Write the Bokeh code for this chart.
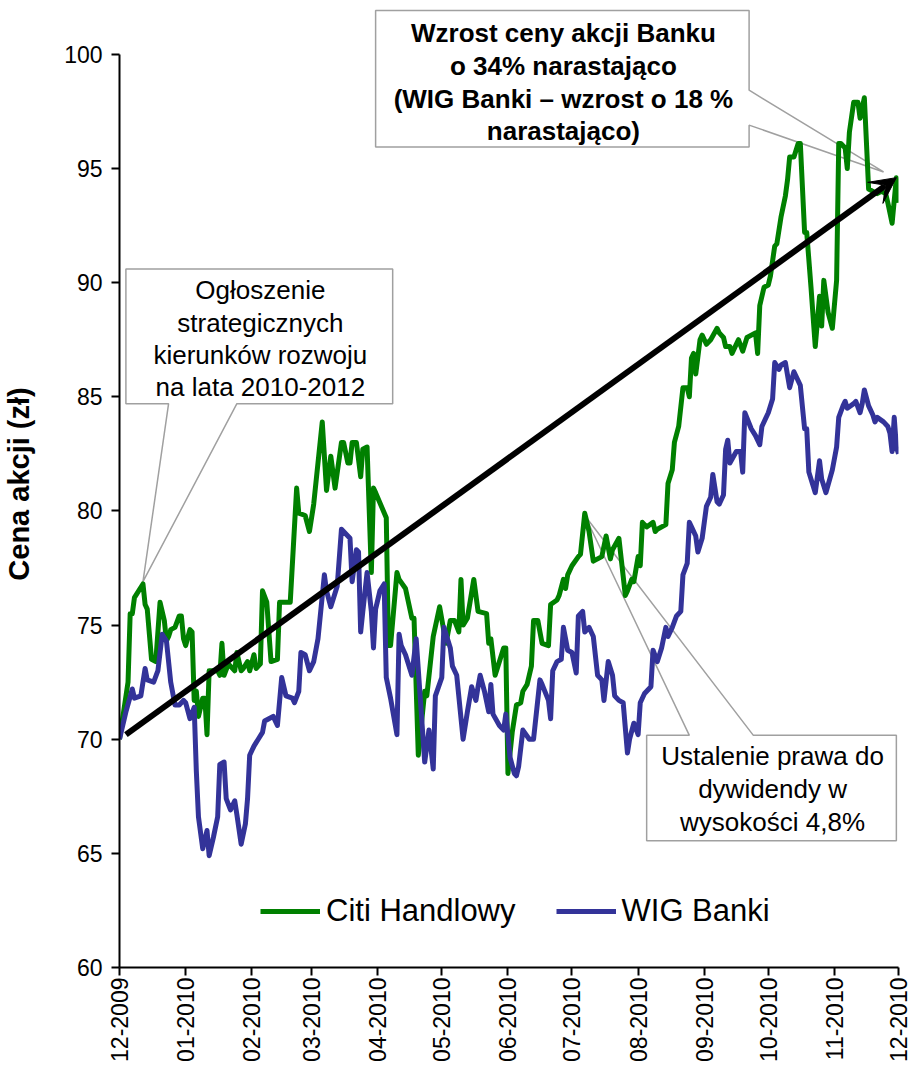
import math
import pandas as pd
from bokeh.plotting import figure
from bokeh.models import (Range1d, FixedTicker, DatetimeTickFormatter, Legend, LegendItem,
                          Arrow, VeeHead)
from bokeh.core.properties import value
from bokeh.embed import file_html
from bokeh.resources import INLINE

# ---------------- data ----------------
citi_dates = [
    "2009-12-01", "2009-12-05", "2009-12-06", "2009-12-07", "2009-12-08", "2009-12-12", "2009-12-13", "2009-12-14", "2009-12-16", "2009-12-18",
    "2009-12-20", "2009-12-22", "2009-12-23", "2009-12-24", "2009-12-25", "2009-12-27", "2009-12-29", "2009-12-30", "2009-12-31", "2010-01-01",
    "2010-01-03", "2010-01-04", "2010-01-05", "2010-01-06", "2010-01-07", "2010-01-09", "2010-01-10", "2010-01-11", "2010-01-12", "2010-01-13",
    "2010-01-16", "2010-01-17", "2010-01-18", "2010-01-19", "2010-01-21", "2010-01-24", "2010-01-25", "2010-01-27", "2010-01-28", "2010-01-30",
    "2010-01-31", "2010-02-02", "2010-02-03", "2010-02-05", "2010-02-06", "2010-02-08", "2010-02-10", "2010-02-13", "2010-02-14", "2010-02-19",
    "2010-02-22", "2010-02-23", "2010-02-26", "2010-02-28", "2010-03-02", "2010-03-06", "2010-03-08", "2010-03-10", "2010-03-12", "2010-03-15",
    "2010-03-16", "2010-03-18", "2010-03-19", "2010-03-20", "2010-03-22", "2010-03-24", "2010-03-25", "2010-03-27", "2010-03-29", "2010-03-30",
    "2010-03-31", "2010-04-05", "2010-04-06", "2010-04-07", "2010-04-10", "2010-04-11", "2010-04-14", "2010-04-17", "2010-04-18", "2010-04-20",
    "2010-04-23", "2010-04-24", "2010-04-27", "2010-04-30", "2010-05-03", "2010-05-05", "2010-05-07", "2010-05-09", "2010-05-10", "2010-05-11",
    "2010-05-13", "2010-05-16", "2010-05-18", "2010-05-22", "2010-05-23", "2010-05-24", "2010-05-26", "2010-05-30", "2010-05-31", "2010-06-01",
    "2010-06-03", "2010-06-05", "2010-06-07", "2010-06-08", "2010-06-10", "2010-06-12", "2010-06-13", "2010-06-15", "2010-06-17", "2010-06-20",
    "2010-06-21", "2010-06-24", "2010-06-25", "2010-06-27", "2010-06-28", "2010-06-29", "2010-07-01", "2010-07-04", "2010-07-05", "2010-07-07",
    "2010-07-09", "2010-07-11", "2010-07-13", "2010-07-15", "2010-07-17", "2010-07-19", "2010-07-20", "2010-07-23", "2010-07-26", "2010-07-27",
    "2010-07-29", "2010-07-30", "2010-08-01", "2010-08-02", "2010-08-03", "2010-08-05", "2010-08-08", "2010-08-09", "2010-08-10", "2010-08-14",
    "2010-08-15", "2010-08-17", "2010-08-18", "2010-08-20", "2010-08-22", "2010-08-24", "2010-08-25", "2010-08-26", "2010-08-27", "2010-08-28",
    "2010-08-30", "2010-08-31", "2010-09-02", "2010-09-04", "2010-09-07", "2010-09-08", "2010-09-10", "2010-09-11", "2010-09-13", "2010-09-14",
    "2010-09-17", "2010-09-19", "2010-09-21", "2010-09-25", "2010-09-26", "2010-09-27", "2010-09-29", "2010-10-01", "2010-10-02", "2010-10-04",
    "2010-10-05", "2010-10-07", "2010-10-09", "2010-10-10", "2010-10-11", "2010-10-13", "2010-10-15", "2010-10-16", "2010-10-18", "2010-10-19",
    "2010-10-21", "2010-10-23", "2010-10-25", "2010-10-26", "2010-10-27", "2010-10-29", "2010-10-31", "2010-11-02", "2010-11-03", "2010-11-04",
    "2010-11-06", "2010-11-07", "2010-11-08", "2010-11-10", "2010-11-12", "2010-11-13", "2010-11-15", "2010-11-17", "2010-11-19", "2010-11-21",
    "2010-11-23", "2010-11-25", "2010-11-26", "2010-11-28", "2010-11-30", "2010-12-01",
]
citi_values = [
    70.0, 72.5, 75.5, 75.5, 76.2, 76.8, 75.9, 75.7, 73.5, 73.4,
    76.0, 75.2, 74.3, 74.5, 74.8, 74.9, 75.4, 75.4, 74.4, 74.1,
    74.8, 74.7, 71.7, 72.1, 71.0, 71.8, 71.8, 70.2, 73.0, 73.0,
    73.0, 72.8, 74.2, 72.8, 73.3, 73.0, 73.8, 73.0, 73.1, 73.4,
    73.0, 73.7, 73.1, 73.3, 76.5, 76.0, 73.4, 73.5, 76.0, 76.0,
    81.0, 79.9, 79.8, 79.1, 80.3, 83.9, 80.9, 82.4, 81.0, 83.0,
    83.0, 82.1, 82.1, 83.0, 83.0, 81.5, 82.7, 82.8, 77.3, 81.0,
    80.8, 79.7, 74.1, 74.1, 77.3, 77.0, 76.6, 75.3, 75.3, 69.3,
    72.1, 71.9, 74.5, 75.8, 74.2, 75.2, 75.2, 74.7, 77.0, 75.0,
    75.3, 77.0, 75.6, 75.5, 74.2, 74.4, 72.8, 74.0, 74.0, 68.5,
    70.3, 71.5, 71.6, 72.1, 72.4, 73.2, 75.2, 75.2, 74.2, 74.1,
    75.9, 76.1, 76.3, 77.0, 76.6, 77.2, 77.6, 78.0, 78.1, 79.9,
    79.1, 77.8, 77.9, 78.0, 78.9, 77.9, 78.3, 78.8, 76.3, 76.5,
    77.0, 76.9, 78.0, 77.6, 79.5, 79.3, 79.5, 79.1, 79.2, 79.4,
    81.2, 81.8, 83.0, 83.7, 85.4, 85.4, 85.0, 86.7, 86.9, 86.0,
    87.5, 87.7, 87.3, 87.5, 88.0, 87.8, 87.6, 87.2, 87.2, 86.9,
    87.5, 87.0, 87.6, 87.8, 86.9, 89.0, 89.8, 89.9, 90.3, 91.6,
    91.7, 92.9, 93.8, 94.5, 95.5, 95.5, 96.1, 96.1, 92.2, 92.2,
    89.8, 87.2, 89.4, 88.1, 90.1, 88.7, 88.0, 90.1, 96.1, 96.1,
    95.9, 95.0, 96.6, 97.9, 97.9, 97.2, 98.1, 94.1, 94.0, 93.9,
    94.0, 93.9, 93.5, 92.6, 94.6, 93.5,
]

wig_dates = [
    "2009-12-01", "2009-12-04", "2009-12-07", "2009-12-08", "2009-12-11", "2009-12-13", "2009-12-14", "2009-12-17", "2009-12-19", "2009-12-21",
    "2009-12-23", "2009-12-25", "2009-12-27", "2009-12-29", "2009-12-31", "2010-01-01", "2010-01-03", "2010-01-05", "2010-01-06", "2010-01-07",
    "2010-01-09", "2010-01-11", "2010-01-12", "2010-01-14", "2010-01-16", "2010-01-17", "2010-01-19", "2010-01-20", "2010-01-22", "2010-01-24",
    "2010-01-25", "2010-01-27", "2010-01-29", "2010-01-30", "2010-01-31", "2010-02-02", "2010-02-04", "2010-02-06", "2010-02-07", "2010-02-09",
    "2010-02-11", "2010-02-13", "2010-02-15", "2010-02-17", "2010-02-20", "2010-02-21", "2010-02-23", "2010-02-24", "2010-02-26", "2010-02-28",
    "2010-03-02", "2010-03-04", "2010-03-07", "2010-03-08", "2010-03-10", "2010-03-13", "2010-03-15", "2010-03-18", "2010-03-19", "2010-03-20",
    "2010-03-22", "2010-03-23", "2010-03-24", "2010-03-25", "2010-03-27", "2010-03-29", "2010-03-30", "2010-03-31", "2010-04-02", "2010-04-04",
    "2010-04-05", "2010-04-07", "2010-04-10", "2010-04-11", "2010-04-12", "2010-04-14", "2010-04-17", "2010-04-19", "2010-04-21", "2010-04-23",
    "2010-04-25", "2010-04-27", "2010-04-28", "2010-05-01", "2010-05-02", "2010-05-05", "2010-05-06", "2010-05-08", "2010-05-11", "2010-05-13",
    "2010-05-15", "2010-05-17", "2010-05-18", "2010-05-19", "2010-05-21", "2010-05-23", "2010-05-24", "2010-05-25", "2010-05-28", "2010-05-30",
    "2010-05-31", "2010-06-02", "2010-06-04", "2010-06-05", "2010-06-06", "2010-06-08", "2010-06-11", "2010-06-13", "2010-06-16", "2010-06-17",
    "2010-06-20", "2010-06-21", "2010-06-22", "2010-06-24", "2010-06-26", "2010-06-27", "2010-06-28", "2010-06-29", "2010-07-01", "2010-07-03",
    "2010-07-04", "2010-07-06", "2010-07-07", "2010-07-09", "2010-07-11", "2010-07-13", "2010-07-15", "2010-07-16", "2010-07-18", "2010-07-20",
    "2010-07-21", "2010-07-23", "2010-07-25", "2010-07-27", "2010-07-28", "2010-07-30", "2010-08-01", "2010-08-02", "2010-08-04", "2010-08-07",
    "2010-08-08", "2010-08-10", "2010-08-12", "2010-08-14", "2010-08-15", "2010-08-17", "2010-08-19", "2010-08-21", "2010-08-22", "2010-08-24",
    "2010-08-25", "2010-08-26", "2010-08-28", "2010-08-29", "2010-08-31", "2010-09-02", "2010-09-04", "2010-09-05", "2010-09-07", "2010-09-08",
    "2010-09-10", "2010-09-11", "2010-09-12", "2010-09-13", "2010-09-16", "2010-09-18", "2010-09-19", "2010-09-20", "2010-09-23", "2010-09-25",
    "2010-09-27", "2010-09-28", "2010-10-01", "2010-10-03", "2010-10-04", "2010-10-06", "2010-10-07", "2010-10-09", "2010-10-11", "2010-10-13",
    "2010-10-14", "2010-10-16", "2010-10-18", "2010-10-19", "2010-10-20", "2010-10-23", "2010-10-25", "2010-10-26", "2010-10-28", "2010-10-31",
    "2010-11-02", "2010-11-03", "2010-11-05", "2010-11-06", "2010-11-07", "2010-11-10", "2010-11-11", "2010-11-13", "2010-11-14", "2010-11-15",
    "2010-11-17", "2010-11-19", "2010-11-20", "2010-11-21", "2010-11-24", "2010-11-26", "2010-11-27", "2010-11-28", "2010-11-29", "2010-11-30",
    "2010-12-01",
]
wig_values = [
    70.0, 71.2, 72.2, 71.8, 71.9, 73.1, 72.6, 72.5, 73.0, 74.6,
    74.3, 72.5, 71.5, 71.5, 71.7, 71.6, 70.9, 71.4, 68.6, 66.6,
    65.2, 66.0, 64.9, 65.7, 66.6, 68.9, 69.0, 67.4, 66.9, 67.3,
    66.7, 65.4, 66.3, 67.4, 69.3, 69.7, 70.0, 70.3, 70.8, 70.9,
    71.0, 70.6, 72.7, 71.9, 71.8, 71.6, 72.1, 73.8, 73.7, 73.0,
    73.4, 74.4, 77.2, 76.5, 75.8, 76.7, 79.2, 78.9, 78.8, 76.9,
    78.3, 78.2, 74.7, 75.6, 77.3, 75.6, 74.0, 75.7, 76.5, 76.8,
    72.7, 71.8, 70.2, 74.6, 74.1, 73.7, 72.8, 74.4, 71.7, 69.0,
    70.4, 68.7, 71.9, 72.7, 74.9, 74.0, 73.2, 72.8, 70.0, 71.2,
    72.3, 71.7, 72.3, 72.8, 72.1, 71.2, 72.4, 71.1, 70.6, 70.4,
    71.1, 69.2, 68.5, 68.4, 68.8, 70.4, 70.0, 70.0, 72.6, 72.4,
    71.7, 70.9, 73.0, 73.4, 73.5, 74.9, 74.4, 73.9, 73.8, 72.9,
    75.4, 75.6, 74.7, 74.9, 74.5, 72.8, 72.6, 71.7, 73.4, 72.8,
    71.9, 71.7, 71.6, 69.4, 70.0, 70.7, 70.2, 71.6, 72.0, 72.3,
    73.9, 73.4, 74.0, 74.9, 74.5, 74.9, 75.4, 75.6, 77.2, 77.7,
    79.5, 79.3, 78.9, 78.2, 78.8, 80.2, 80.6, 81.6, 80.4, 80.3,
    80.7, 82.7, 83.1, 82.1, 82.6, 82.6, 81.7, 84.3, 83.6, 83.3,
    82.9, 83.7, 84.3, 84.9, 86.5, 86.2, 86.4, 86.5, 85.4, 86.1,
    85.9, 85.5, 83.6, 83.6, 81.7, 80.8, 82.2, 81.4, 80.8, 81.8,
    82.8, 84.1, 84.6, 84.8, 84.5, 84.7, 84.8, 84.3, 84.7, 85.3,
    84.6, 84.2, 83.9, 84.1, 83.9, 83.7, 83.4, 82.6, 84.1, 82.8,
    82.5,
]

series_names = ["Citi Handlowy", "WIG Banki"]
y_ticks = [60, 65, 70, 75, 80, 85, 90, 95, 100]
month_ticks = ["2009-12-01", "2010-01-01", "2010-02-01", "2010-03-01", "2010-04-01", "2010-05-01",
               "2010-06-01", "2010-07-01", "2010-08-01", "2010-09-01", "2010-10-01", "2010-11-01",
               "2010-12-01"]
y_title = "Cena akcji (zł)"

note_strategy = "Ogłoszenie\nstrategicznych\nkierunków rozwoju\nna lata 2010-2012"
note_growth = "Wzrost ceny akcji Banku\no 34% narastająco\n(WIG Banki – wzrost o 18 %\nnarastająco)"
note_dividend = "Ustalenie prawa do\ndywidendy w\nwysokości 4,8%"

GREEN = "#008000"
BLUE = "#333399"
GRAY = "#a0a0a0"
FONT = "Liberation Sans"


def ts(s):
    return pd.Timestamp(s)


def ms(s):
    return pd.Timestamp(s).value / 1e6


p = figure(width=911, height=1064, x_axis_type="datetime",
           x_range=Range1d(ts(month_ticks[0]), ts(month_ticks[-1])),
           y_range=Range1d(60, 102.36),
           output_backend="svg", toolbar_location=None,
           min_border_left=117, min_border_right=13, min_border_top=0, min_border_bottom=94)
p.outline_line_color = None
p.xgrid.visible = False
p.ygrid.visible = False
p.background_fill_color = "white"

# ---- callout boxes (beneath the lines) ----
callA_x = ["2009-12-04", "2010-04-08", "2010-04-08", "2010-01-25", "2009-12-12", "2009-12-24", "2009-12-04"]
callA_y = [90.6, 90.6, 84.7, 84.7, 76.9, 84.7, 84.7]
callB_x = ["2010-03-31", "2010-09-22", "2010-09-22", "2010-11-24", "2010-09-22", "2010-09-22", "2010-03-31"]
callB_y = [101.92, 101.92, 98.43, 94.85, 96.9, 95.94, 95.94]
callC_x = ["2010-08-05", "2010-08-25", "2010-07-07", "2010-09-24", "2010-11-30", "2010-11-30", "2010-08-05"]
callC_y = [70.17, 70.17, 79.8, 70.17, 70.17, 65.55, 65.55]
for cx, cy in [(callA_x, callA_y), (callB_x, callB_y), (callC_x, callC_y)]:
    p.patch([ts(v) for v in cx], cy, fill_color="white", line_color=GRAY, line_width=1.5)

p.text(x=[ts("2010-02-05")], y=[87.55], text=[note_strategy], text_font=value(FONT),
       text_font_size="26px", text_align="center", text_baseline="middle",
       text_line_height=1.07, text_color="black")
p.text(x=[ts("2010-06-27")], y=[98.78], text=[note_growth], text_font=value(FONT),
       text_font_size="26px", text_font_style="bold", text_align="center", text_baseline="middle",
       text_line_height=1.09, text_color="black")
p.text(x=[ts("2010-10-03")], y=[67.82], text=[note_dividend], text_font=value(FONT),
       text_font_size="26px", text_align="center", text_baseline="middle",
       text_line_height=1.09, text_color="black")

# ---- series ----
r_citi = p.line([ts(d) for d in citi_dates], citi_values, line_color=GREEN, line_width=5,
                line_join="round")
r_wig = p.line([ts(d) for d in wig_dates], wig_values, line_color=BLUE, line_width=5,
               line_join="round")

# ---- trend arrow ----
p.add_layout(Arrow(x_start=ms("2009-12-04"), y_start=70.2, x_end=ms("2010-11-30"), y_end=94.6,
                   line_color="black", line_width=6,
                   end=VeeHead(size=26, fill_color="black", line_color="black", line_width=1)))

# ---- legend ----
legend = Legend(items=[LegendItem(label=series_names[0], renderers=[r_citi]),
                       LegendItem(label=series_names[1], renderers=[r_wig])],
                orientation="horizontal", location=(141, 38),
                label_text_font=FONT, label_text_font_size="31px", label_text_color="black",
                glyph_width=60, glyph_height=30, label_height=30, label_standoff=6,
                spacing=40, padding=0, margin=0,
                border_line_color=None, background_fill_alpha=0)
p.add_layout(legend)

# ---- axes ----
ya = p.yaxis[0]
ya.ticker = FixedTicker(ticks=y_ticks)
ya.bounds = (y_ticks[0], y_ticks[-1])
ya.axis_label = y_title
ya.axis_label_text_font = FONT
ya.axis_label_text_font_size = "29px"
ya.axis_label_text_font_style = "bold"
ya.axis_label_text_color = "black"
ya.axis_label_standoff = 26

xa = p.xaxis[0]
xa.ticker = FixedTicker(ticks=[ms(m) for m in month_ticks])
xa.formatter = DatetimeTickFormatter(days="%m-%Y", months="%m-%Y", years="%m-%Y",
                                     hours="%m-%Y", context=None)
xa.major_label_orientation = math.pi / 2

for ax in (xa, ya):
    ax.axis_line_color = "black"
    ax.axis_line_width = 2
    ax.major_tick_line_color = "black"
    ax.major_tick_line_width = 2
    ax.major_tick_in = 0
    ax.major_tick_out = 8
    ax.minor_tick_line_color = None
    ax.major_label_text_font = FONT
    ax.major_label_text_color = "black"

ya.major_label_text_font_size = "23px"
ya.major_label_standoff = 9
xa.major_label_text_font_size = "23px"
xa.major_label_standoff = 2

open("out.html", "w").write(file_html(p, INLINE))
